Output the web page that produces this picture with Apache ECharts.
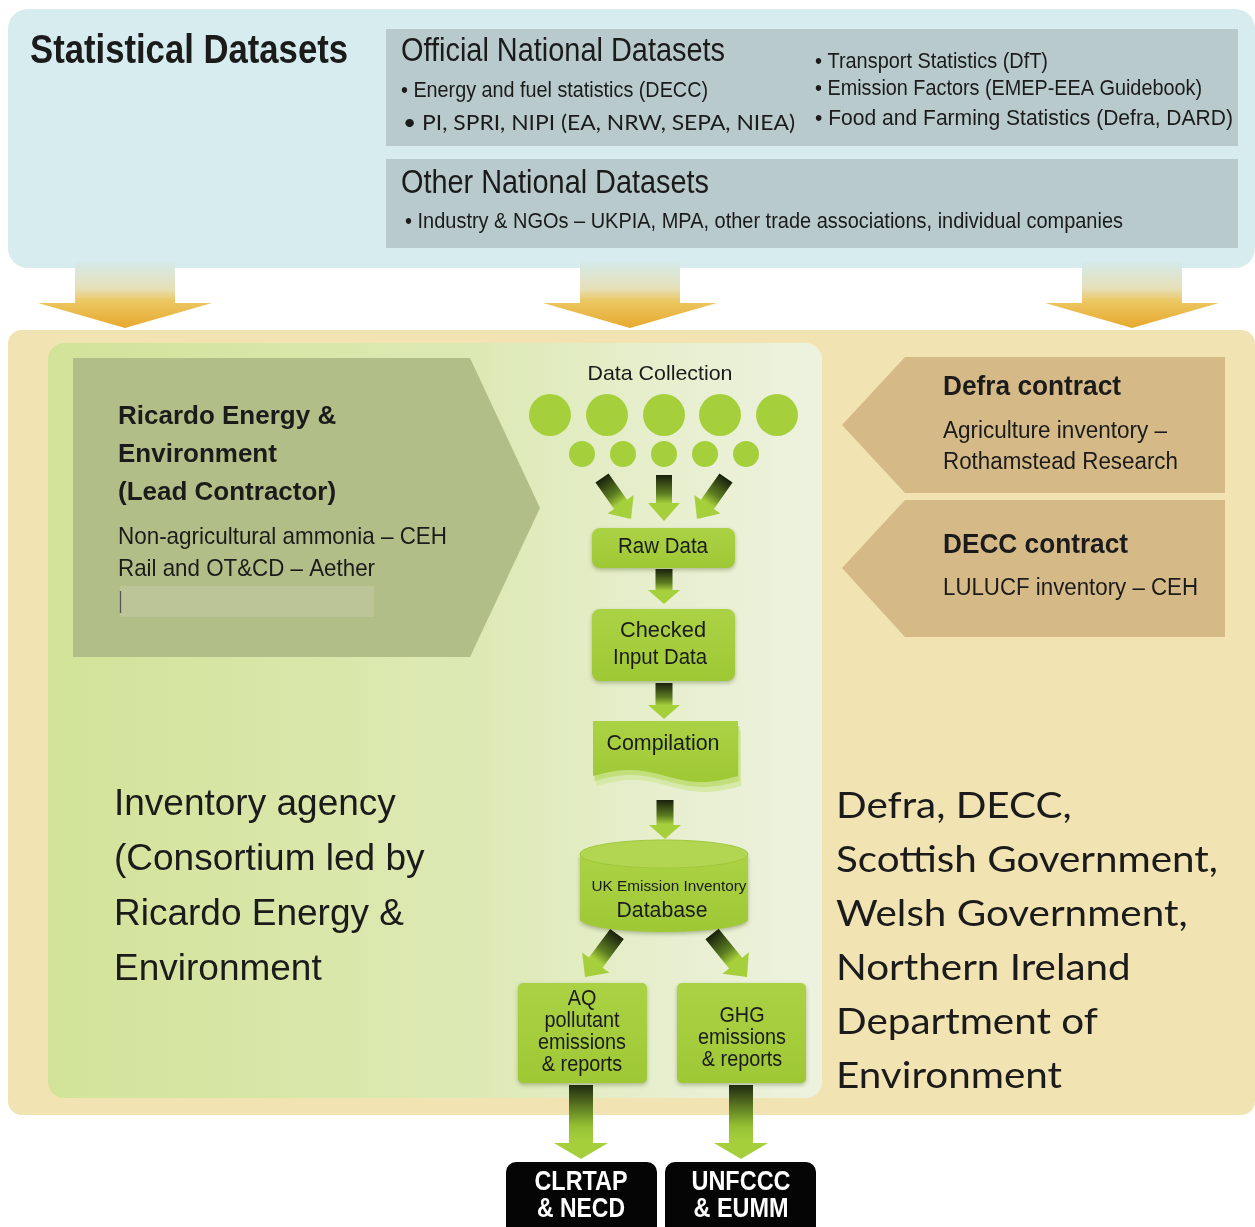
<!DOCTYPE html>
<html><head><meta charset="utf-8">
<script src="https://cdn.jsdelivr.net/npm/echarts@6/dist/echarts.min.js"></script>
<style>html,body{margin:0;padding:0;background:#fff}#c{width:1255px;height:1227px}</style>
</head><body><div id="c"></div>
<script>
// ---------- content (text data) ----------
const statTitle = 'Statistical Datasets';
const officialTitle = 'Official National Datasets';
const officialLeft = ['• Energy and fuel statistics (DECC)', '• PI, SPRI, NIPI (EA, NRW, SEPA, NIEA)'];
const officialRight = ['• Transport Statistics (DfT)', '• Emission Factors (EMEP-EEA Guidebook)', '• Food and Farming Statistics (Defra, DARD)'];
const otherTitle = 'Other National Datasets';
const otherItems = ['• Industry & NGOs – UKPIA, MPA, other trade associations, individual companies'];
const leadTitle = ['Ricardo Energy &', 'Environment', '(Lead Contractor)'];
const leadItems = ['Non-agricultural ammonia – CEH', 'Rail and OT&CD – Aether'];
const defraTitle = 'Defra contract';
const defraItems = ['Agriculture inventory –', 'Rothamstead Research'];
const deccTitle = 'DECC contract';
const deccItems = ['LULUCF inventory – CEH'];
const collectionLabel = 'Data Collection';
const rawLabel = ['Raw Data'];
const checkedLabel = ['Checked', 'Input Data'];
const compilationLabel = ['Compilation'];
const dbLabels = ['UK Emission Inventory', 'Database'];
const aqLabel = ['AQ', 'pollutant', 'emissions', '& reports'];
const ghgLabel = ['GHG', 'emissions', '& reports'];
const reportTargets = [['CLRTAP', '& NECD'], ['UNFCCC', '& EUMM']];
const agencyLines = ['Inventory agency', '(Consortium led by', 'Ricardo Energy &', 'Environment'];
const sponsorLines = ['Defra, DECC,', 'Scottish Government,', 'Welsh Government,', 'Northern Ireland', 'Department of', 'Environment'];

// ---------- drawing helpers ----------
const SANS = '"Liberation Sans", Arial, sans-serif';
const CAL = 'Lato, "Open Sans", sans-serif';
const G = [];
let Z = 1;
const mctx = document.createElement('canvas').getContext('2d');
function measure(str, font) { mctx.font = font; return mctx.measureText(str).width; }
function fontOf(size, bold, family) { return (bold ? 'bold ' : '') + size + 'px ' + (family || SANS); }
function txt(str, x, y, size, o) {
  o = o || {};
  const font = fontOf(size, o.bold, o.family);
  let sx = o.sx || 1;
  if (o.w) sx = o.w / measure(str, font);
  G.push({type: 'text', x: x, y: y, scaleX: sx, z: Z++, silent: true,
    style: {text: str, font: font, fill: o.fill || '#1b1b1b', align: o.align || 'left', verticalAlign: 'middle'}});
}
function rect(x, y, w, h, fill, r, extra) {
  G.push(Object.assign({type: 'rect', z: Z++, silent: true, shape: {x: x, y: y, width: w, height: h, r: r || 0}, style: {fill: fill}}, extra || {}));
}
function poly(points, fill, extra) {
  G.push(Object.assign({type: 'polygon', z: Z++, silent: true, shape: {points: points}, style: {fill: fill}}, extra || {}));
}
function circ(cx, cy, r, fill) {
  G.push({type: 'circle', z: Z++, silent: true, shape: {cx: cx, cy: cy, r: r}, style: {fill: fill}});
}
function ellipsePts(cx, cy, rx, ry, a0, a1, n) {
  const p = [];
  for (let i = 0; i <= n; i++) { const a = a0 + (a1 - a0) * i / n; p.push([cx + rx * Math.cos(a), cy + ry * Math.sin(a)]); }
  return p;
}
function arrow(x1, y1, x2, y2, sw, hw, hl, stops) {
  const L = Math.hypot(x2 - x1, y2 - y1), dx = (x2 - x1) / L, dy = (y2 - y1) / L, nx = -dy, ny = dx;
  const bx = x2 - dx * hl, by = y2 - dy * hl;
  const pts = [
    [x1 + nx * sw / 2, y1 + ny * sw / 2], [bx + nx * sw / 2, by + ny * sw / 2], [bx + nx * hw / 2, by + ny * hw / 2],
    [x2, y2], [bx - nx * hw / 2, by - ny * hw / 2], [bx - nx * sw / 2, by - ny * sw / 2], [x1 - nx * sw / 2, y1 - ny * sw / 2]];
  poly(pts, new echarts.graphic.LinearGradient(x1, y1, x2, y2, stops, true));
}
function vgrad(stops) { return new echarts.graphic.LinearGradient(0, 0, 0, 1, stops); }

const GREEN = '#a6cf3c';
const boxFill = () => vgrad([{offset: 0, color: '#abd244'}, {offset: 1, color: '#9fc835'}]);
const boxShadow = {shadowColor: 'rgba(60,80,20,0.35)', shadowBlur: 4, shadowOffsetY: 2};
const flowStops = [{offset: 0, color: '#18200c'}, {offset: 0.4, color: '#5d7d22'}, {offset: 0.62, color: '#a6cf3c'}, {offset: 1, color: '#a6cf3c'}];
const bigStops = [{offset: 0, color: '#202a10'}, {offset: 0.55, color: '#93c032'}, {offset: 0.75, color: '#a6cf3c'}, {offset: 1, color: '#a6cf3c'}];
const goldStops = [{offset: 0, color: '#d5eaea'}, {offset: 0.4, color: '#e6e0b8'}, {offset: 0.6, color: '#ecc660'}, {offset: 1, color: '#e6a92e'}];

// ---------- top panel ----------
rect(8, 9, 1247, 259, '#d6ecef', 20);
rect(386, 29, 852, 117, '#b8cacb');
rect(386, 159, 852, 89, '#b8cacb');
txt(statTitle, 30, 52, 40, {bold: true, w: 318});
txt(officialTitle, 401, 52, 33, {w: 324});
txt(officialLeft[0], 401, 91, 22, {w: 307});
txt(officialLeft[1], 403, 123, 21, {family: CAL, w: 392});
txt(officialRight[0], 815, 62, 22, {w: 233});
txt(officialRight[1], 815, 89, 22, {w: 387});
txt(officialRight[2], 815, 119, 22, {w: 418});
txt(otherTitle, 401, 184, 33, {w: 308});
txt(otherItems[0], 405, 222, 22, {w: 718});

// ---------- middle panel ----------
rect(8, 330, 1247, 785, '#f2e3b3', 14);
G.push({type: 'rect', z: Z++, silent: true, shape: {x: 48, y: 343, width: 774, height: 755, r: 16},
  style: {fill: new echarts.graphic.LinearGradient(0, 0, 1, 0, [
    {offset: 0, color: '#d2e399'}, {offset: 0.55, color: '#dde9b4'}, {offset: 0.8, color: '#e7efcf'}, {offset: 1, color: '#edf2df'}])}});
// top arrows
[[125], [630], [1132]].forEach(function (a) {
  const cx = a[0];
  poly([[cx - 50, 262], [cx + 50, 262], [cx + 50, 303], [cx + 87, 303], [cx, 328], [cx - 87, 303], [cx - 50, 303]], vgrad(goldStops));
});

// Ricardo pentagon
poly([[73, 358], [470, 358], [540, 508], [470, 657], [73, 657]], '#b2be88');
leadTitle.forEach(function (s, i) { txt(s, 118, 417 + i * 38, 26, {bold: true}); });
txt(leadItems[0], 118, 537, 24, {w: 329});
txt(leadItems[1], 118, 569, 24, {w: 257});
rect(120, 586, 254, 31, '#bcc597');
G.push({type: 'line', z: Z++, silent: true, shape: {x1: 120.5, y1: 591, x2: 120.5, y2: 613}, style: {stroke: '#555', lineWidth: 1.3}});

// Defra / DECC pentagons
poly([[842, 425], [905, 357], [1225, 357], [1225, 493], [905, 493]], '#d5ba88');
poly([[842, 568], [905, 500], [1225, 500], [1225, 637], [905, 637]], '#d5ba88');
txt(defraTitle, 943, 388, 27, {bold: true, w: 178});
txt(defraItems[0], 943, 432, 23, {w: 224});
txt(defraItems[1], 943, 463, 23, {w: 235});
txt(deccTitle, 943, 546, 27, {bold: true, w: 185});
txt(deccItems[0], 943, 589, 23, {w: 255});

// Data collection
txt(collectionLabel, 660, 374, 21, {align: 'center', w: 145});
[550, 607, 664, 720, 777].forEach(function (x) { circ(x, 415, 21, GREEN); });
[582, 623, 664, 705, 746].forEach(function (x) { circ(x, 454, 13, GREEN); });
arrow(602, 478, 631, 519, 16, 32, 18, flowStops);
arrow(664, 475, 664, 521, 16, 32, 18, flowStops);
arrow(726, 478, 697, 519, 16, 32, 18, flowStops);

// Raw Data
rect(592, 528, 143, 40, boxFill(), 8, {style: Object.assign({fill: boxFill()}, boxShadow)});
txt(rawLabel[0], 663, 547, 22, {align: 'center', w: 90});
arrow(664, 569, 664, 604, 17, 32, 14, flowStops);
// Checked input data
rect(592, 609, 143, 72, boxFill(), 8, {style: Object.assign({fill: boxFill()}, boxShadow)});
txt(checkedLabel[0], 663, 631, 22, {align: 'center', w: 86});
txt(checkedLabel[1], 660, 658, 22, {align: 'center', w: 94});
arrow(664, 683, 664, 719, 17, 32, 14, flowStops);
// Compilation (document shape)
(function () {
  function doc(ox, oy) {
    const p = [[593 + ox, 721 + oy], [738 + ox, 721 + oy], [738 + ox, 775 + oy]];
    for (let i = 0; i <= 30; i++) { const t = i / 30; p.push([738 + ox - t * 145, 776 + oy + 6 * Math.sin(t * 2 * Math.PI)]); }
    return p;
  }
  poly(doc(3, 10), '#d6e9a8');
  poly(doc(1.5, 5), '#c2df7c');
  poly(doc(0, 0), boxFill());
})();
txt(compilationLabel[0], 663, 744, 22, {align: 'center', w: 113});
arrow(665, 800, 665, 839, 17, 32, 14, flowStops);
// Database cylinder
(function () {
  const cx = 664, rx = 84, top = 854, bot = 919;
  const body = [[cx - rx, top], [cx + rx, top]].concat(ellipsePts(cx, bot, rx, 13, 0, Math.PI, 40));
  poly(body, boxFill(), {style: Object.assign({fill: boxFill()}, boxShadow)});
  poly(ellipsePts(cx, top, rx, 14, 0, 2 * Math.PI, 60), '#b2d652', {style: {fill: '#b2d652', stroke: '#a0c83c', lineWidth: 1}});
})();
txt(dbLabels[0], 669, 887, 15, {align: 'center', w: 155});
txt(dbLabels[1], 662, 911, 22, {align: 'center', w: 91});
arrow(617, 934, 585, 977, 17, 34, 18, flowStops);
arrow(712, 934, 747, 977, 17, 34, 18, flowStops);
// AQ / GHG boxes
rect(518, 983, 129, 100, boxFill(), 5, {style: Object.assign({fill: boxFill()}, boxShadow)});
rect(677, 983, 129, 100, boxFill(), 5, {style: Object.assign({fill: boxFill()}, boxShadow)});
aqLabel.forEach(function (s, i) { txt(s, 582, 999 + i * 22, 22, {align: 'center', sx: 0.9}); });
ghgLabel.forEach(function (s, i) { txt(s, 742, 1016 + i * 22, 22, {align: 'center', sx: 0.9}); });

// Right-hand sponsors
(function () {
  const sz = 37;
  const sx = 382 / measure(sponsorLines[1], fontOf(sz, false, CAL));
  sponsorLines.forEach(function (s, i) { txt(s, 836, 806 + i * 54, sz, {family: CAL, sx: sx}); });
})();
// Left agency text
agencyLines.forEach(function (s, i) { txt(s, 114, 805 + i * 55, 37); });

// ---------- outputs ----------
arrow(581, 1085, 581, 1159, 24, 54, 16, bigStops);
arrow(741, 1085, 741, 1159, 24, 54, 16, bigStops);
rect(506, 1162, 151, 90, '#050505', [10, 10, 0, 0]);
rect(665, 1162, 151, 90, '#050505', [10, 10, 0, 0]);
txt(reportTargets[0][0], 581, 1182, 28, {bold: true, fill: '#fff', align: 'center', w: 93});
txt(reportTargets[0][1], 581, 1209, 28, {bold: true, fill: '#fff', align: 'center', w: 88});
txt(reportTargets[1][0], 741, 1182, 28, {bold: true, fill: '#fff', align: 'center', w: 99});
txt(reportTargets[1][1], 741, 1209, 28, {bold: true, fill: '#fff', align: 'center', w: 95});

const chart = echarts.init(document.getElementById('c'), null, {renderer: 'canvas', width: 1255, height: 1227});
chart.setOption({backgroundColor: '#ffffff', animation: false, graphic: {elements: G}});
</script>
</body></html>
